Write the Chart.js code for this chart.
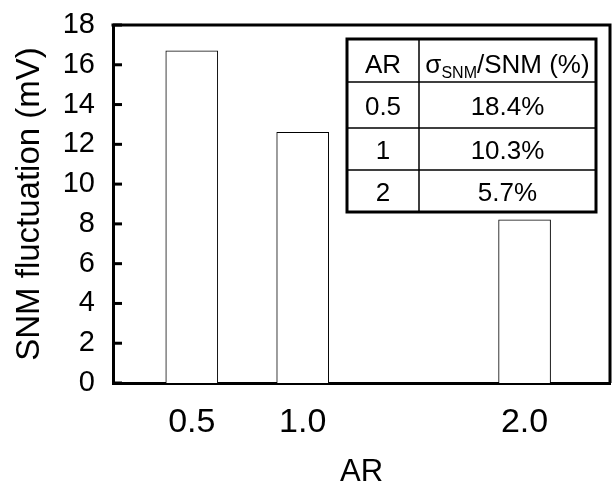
<!DOCTYPE html>
<html>
<head>
<meta charset="utf-8">
<script src="https://cdn.jsdelivr.net/npm/chart.js@4/dist/chart.umd.min.js"></script>
<style>
  html, body { margin: 0; padding: 0; background: #fff; }
  #wrap { width: 612px; height: 483px; }
</style>
</head>
<body>
<div id="wrap"><canvas id="c" width="612" height="483"></canvas></div>
<script>
// Aspect ratios and the SNM fluctuation measured for each
const arValues = [0.5, 1.0, 2.0];
const snmFluctuation = [16.7, 12.6, 8.2];   // mV
const xTickLabels = ['0.5', '1.0', '2.0'];
const yTickValues = [0, 2, 4, 6, 8, 10, 12, 14, 16, 18];

// Inset table: sigma_SNM / SNM for each AR
const tableAR = ['0.5', '1', '2'];
const tableRatio = ['18.4%', '10.3%', '5.7%'];

const FONT = '"Liberation Sans", Arial, Helvetica, sans-serif';
Chart.defaults.color = '#000';
Chart.defaults.font.family = FONT;

// Top/right frame lines and inward y tick marks
const framePlugin = {
  id: 'frame',
  afterDatasetsDraw(chart) {
    const { ctx, chartArea: a } = chart;
    const y = chart.scales.y;
    ctx.save();
    ctx.strokeStyle = '#000';
    ctx.lineWidth = 3;
    ctx.beginPath();
    ctx.moveTo(a.left - 1.5, a.top);
    ctx.lineTo(a.right, a.top);
    ctx.lineTo(a.right, a.bottom);
    ctx.stroke();
    y.ticks.forEach(t => {
      const py = y.getPixelForValue(t.value);
      ctx.beginPath();
      ctx.moveTo(a.left, py);
      ctx.lineTo(a.left + 9, py);
      ctx.stroke();
    });
    ctx.restore();
  }
};

// Inset table with the relative SNM spread
const tablePlugin = {
  id: 'insetTable',
  afterDraw(chart) {
    const { ctx } = chart;
    const x0 = 347, y0 = 39, w = 249, h = 173;
    const colX = x0 + 72;
    const rows = [y0, y0 + 43, y0 + 89, y0 + 131, y0 + h];
    ctx.save();
    ctx.fillStyle = '#fff';
    ctx.fillRect(x0, y0, w, h);
    ctx.strokeStyle = '#000';
    ctx.lineWidth = 1.5;
    ctx.beginPath();
    ctx.moveTo(colX, y0); ctx.lineTo(colX, y0 + h);
    for (let i = 1; i < rows.length - 1; i++) {
      ctx.moveTo(x0, rows[i]); ctx.lineTo(x0 + w, rows[i]);
    }
    ctx.stroke();
    ctx.lineWidth = 3;
    ctx.strokeRect(x0, y0, w, h);

    const c1 = (x0 + colX) / 2, c2 = (colX + x0 + w) / 2;
    ctx.fillStyle = '#000';
    ctx.textBaseline = 'alphabetic';
    ctx.textAlign = 'center';
    const big = '26px ' + FONT, small = '16px ' + FONT;
    const base = (r) => (rows[r] + rows[r + 1]) / 2 + 10;

    // header row
    ctx.font = big;
    ctx.fillText('AR', c1, base(0) + 2);
    const partA = '\u03C3', partB = 'SNM', partC = '/SNM (%)';
    ctx.font = big; const wA = ctx.measureText(partA).width;
    ctx.font = small; const wB = ctx.measureText(partB).width;
    ctx.font = big; const wC = ctx.measureText(partC).width;
    let sx = c2 - (wA + wB + wC) / 2;
    ctx.textAlign = 'left';
    ctx.font = big; ctx.fillText(partA, sx, base(0) + 2); sx += wA;
    ctx.font = small; ctx.fillText(partB, sx, base(0) + 7); sx += wB;
    ctx.font = big; ctx.fillText(partC, sx, base(0) + 2);

    ctx.textAlign = 'center';
    ctx.font = big;
    for (let i = 0; i < tableAR.length; i++) {
      ctx.fillText(tableAR[i], c1, base(i + 1));
      ctx.fillText(tableRatio[i], c2, base(i + 1));
    }
    ctx.restore();
  }
};

new Chart(document.getElementById('c'), {
  type: 'bar',
  data: {
    datasets: [{
      data: arValues.map((v, i) => ({ x: v, y: snmFluctuation[i] })),
      backgroundColor: '#fff',
      borderColor: '#000',
      borderWidth: 1,
      barThickness: 52
    }]
  },
  options: {
    responsive: false,
    animation: false,
    events: [],
    layout: { padding: { top: 25, right: 2, left: 0, bottom: 0 } },
    plugins: { legend: { display: false }, tooltip: { enabled: false } },
    scales: {
      x: {
        type: 'linear',
        offset: false,
        min: 0.145,
        max: 2.385,
        grid: { display: false, drawTicks: false, offset: false },
        border: { display: true, color: '#000', width: 3 },
        afterBuildTicks: (s) => { s.ticks = arValues.map(v => ({ value: v })); },
        afterFit: (s) => { s.height = 100; s.paddingLeft = 0; s.paddingRight = 0; },
        ticks: {
          font: { size: 34 },
          padding: 19,
          callback: (v, i) => xTickLabels[i]
        },
        title: {
          display: true,
          text: 'AR',
          font: { size: 31, lineHeight: 0.7 },
          padding: 0
        }
      },
      y: {
        min: 0,
        max: 18,
        grid: { display: false, drawTicks: false },
        border: { display: true, color: '#000', width: 3 },
        afterBuildTicks: (s) => { s.ticks = yTickValues.map(v => ({ value: v })); },
        afterFit: (s) => { s.width = 113; s.paddingTop = 0; s.paddingBottom = 0; },
        ticks: { font: { size: 29 }, padding: 18 },
        title: {
          display: true,
          text: 'SNM fluctuation (mV)',
          font: { size: 33, lineHeight: 1.2 },
          padding: { top: 10, bottom: 0 }
        }
      }
    }
  },
  plugins: [framePlugin, tablePlugin]
});
</script>
</body>
</html>
